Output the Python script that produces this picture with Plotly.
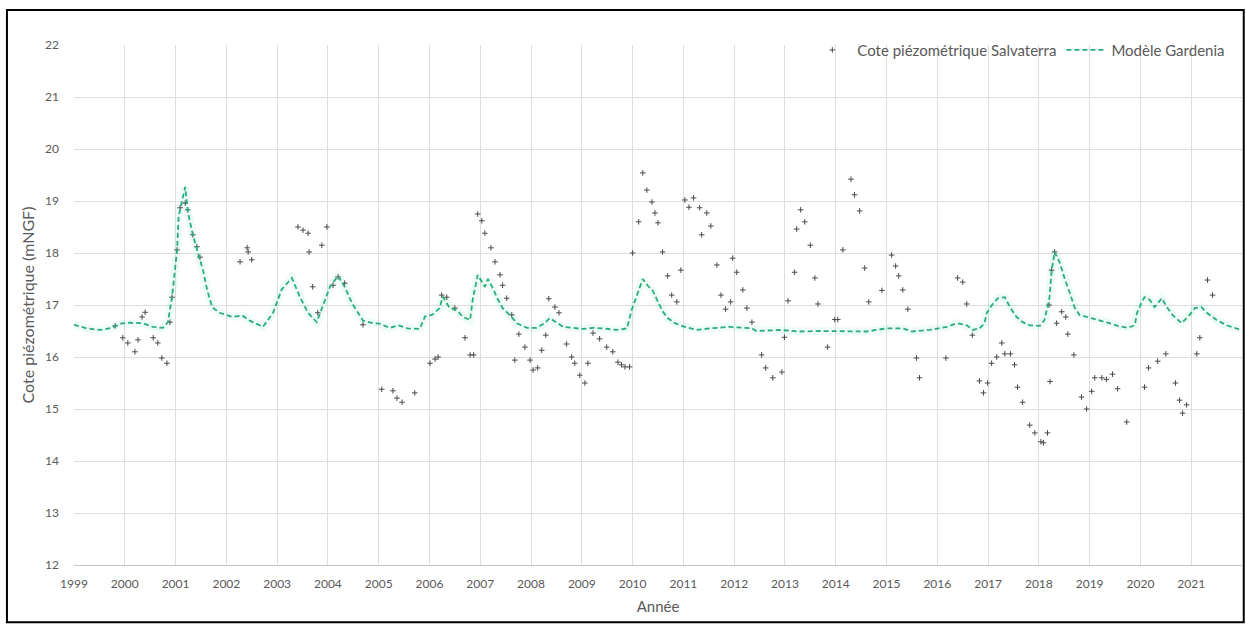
import plotly.graph_objects as go

# Simulated groundwater level (Gardenia model), decimal year / level in mNGF
model_year = [
    1999.00, 1999.25, 1999.51, 1999.75, 1999.90, 2000.10, 2000.35, 2000.55, 2000.75, 2000.85,
    2000.93, 2001.03, 2001.06, 2001.19, 2001.24, 2001.34, 2001.44, 2001.54, 2001.62, 2001.72,
    2001.87, 2002.13, 2002.31, 2002.46, 2002.72, 2002.92, 2003.09, 2003.29, 2003.45, 2003.61,
    2003.78, 2003.90, 2004.04, 2004.20, 2004.33, 2004.47, 2004.69, 2004.89, 2005.02, 2005.22,
    2005.38, 2005.57, 2005.81, 2005.91, 2006.05, 2006.20, 2006.26, 2006.40, 2006.54, 2006.66,
    2006.80, 2006.85, 2006.95, 2007.09, 2007.15, 2007.25, 2007.35, 2007.44, 2007.58, 2007.72,
    2007.92, 2008.11, 2008.27, 2008.37, 2008.51, 2008.63, 2008.82, 2009.02, 2009.22, 2009.41,
    2009.69, 2009.89, 2009.98, 2010.08, 2010.20, 2010.30, 2010.40, 2010.50, 2010.59, 2010.69,
    2010.83, 2011.03, 2011.26, 2011.52, 2011.91, 2012.35, 2012.44, 2012.90, 2013.29, 2013.70,
    2014.08, 2014.61, 2015.00, 2015.32, 2015.50, 2015.85, 2016.19, 2016.38, 2016.58, 2016.70,
    2016.83, 2016.93, 2016.97, 2017.07, 2017.19, 2017.33, 2017.43, 2017.56, 2017.68, 2017.82,
    2018.02, 2018.11, 2018.17, 2018.21, 2018.25, 2018.31, 2018.41, 2018.51, 2018.61, 2018.70,
    2018.80, 2018.96, 2019.20, 2019.39, 2019.55, 2019.75, 2019.89, 2019.93, 2020.02, 2020.08,
    2020.18, 2020.28, 2020.42, 2020.52, 2020.63, 2020.81, 2020.97, 2021.07, 2021.20, 2021.32,
    2021.50, 2021.70, 2021.95,
]
model_level = [
    16.62, 16.55, 16.52, 16.56, 16.64, 16.66, 16.65, 16.58, 16.56, 16.67,
    17.15, 18.06, 18.70, 19.27, 18.80, 18.35, 18.00, 17.67, 17.30, 16.96,
    16.85, 16.77, 16.80, 16.70, 16.58, 16.85, 17.30, 17.52, 17.15, 16.85,
    16.67, 17.00, 17.35, 17.56, 17.35, 17.04, 16.70, 16.65, 16.64, 16.56,
    16.61, 16.55, 16.54, 16.78, 16.81, 16.94, 17.16, 16.94, 16.90, 16.77,
    16.71, 17.10, 17.58, 17.35, 17.50, 17.32, 17.10, 16.94, 16.81, 16.65,
    16.56, 16.56, 16.65, 16.75, 16.65, 16.58, 16.56, 16.54, 16.56, 16.55,
    16.52, 16.55, 16.90, 17.16, 17.50, 17.37, 17.27, 17.06, 16.88, 16.75,
    16.65, 16.58, 16.52, 16.55, 16.58, 16.55, 16.50, 16.52, 16.49, 16.50,
    16.49, 16.49, 16.55, 16.55, 16.49, 16.52, 16.58, 16.65, 16.61, 16.52,
    16.55, 16.65, 16.84, 16.99, 17.13, 17.15, 16.96, 16.77, 16.67, 16.61,
    16.60, 16.71, 16.96, 17.15, 17.65, 18.02, 17.82, 17.50, 17.23, 16.96,
    16.81, 16.77, 16.70, 16.65, 16.60, 16.56, 16.61, 16.84, 17.04, 17.15,
    17.10, 16.96, 17.13, 16.96, 16.81, 16.65, 16.81, 16.94, 16.96, 16.84,
    16.71, 16.61, 16.53,
]

# Measured groundwater level at Salvaterra, decimal year / level in mNGF
obs_year = [
    1999.81, 1999.96, 2000.06, 2000.20, 2000.26, 2000.34, 2000.40, 2000.56, 2000.65, 2000.73,
    2000.83, 2000.89, 2000.93, 2001.03, 2001.09, 2001.19, 2001.24, 2001.34, 2001.42, 2001.48,
    2002.27, 2002.41, 2002.43, 2002.50, 2003.41, 2003.51, 2003.61, 2003.63, 2003.70, 2003.80,
    2003.88, 2003.98, 2004.10, 2004.20, 2004.33, 2004.69, 2005.06, 2005.28, 2005.36, 2005.46,
    2005.71, 2006.01, 2006.11, 2006.17, 2006.24, 2006.34, 2006.50, 2006.70, 2006.80, 2006.87,
    2006.95, 2007.03, 2007.09, 2007.21, 2007.29, 2007.39, 2007.44, 2007.52, 2007.62, 2007.68,
    2007.76, 2007.88, 2007.98, 2008.04, 2008.13, 2008.21, 2008.29, 2008.35, 2008.47, 2008.55,
    2008.70, 2008.80, 2008.86, 2008.96, 2009.06, 2009.12, 2009.22, 2009.35, 2009.49, 2009.61,
    2009.71, 2009.78, 2009.85, 2009.94, 2010.00, 2010.12, 2010.20, 2010.28, 2010.38, 2010.44,
    2010.50, 2010.59, 2010.69, 2010.77, 2010.87, 2010.95, 2011.03, 2011.11, 2011.20, 2011.32,
    2011.36, 2011.46, 2011.54, 2011.66, 2011.74, 2011.83, 2011.93, 2011.97, 2012.05, 2012.17,
    2012.25, 2012.35, 2012.54, 2012.62, 2012.76, 2012.94, 2012.99, 2013.06, 2013.19, 2013.23,
    2013.31, 2013.39, 2013.50, 2013.59, 2013.65, 2013.84, 2013.98, 2014.04, 2014.14, 2014.30,
    2014.37, 2014.47, 2014.57, 2014.65, 2014.91, 2015.10, 2015.18, 2015.24, 2015.32, 2015.42,
    2015.59, 2015.65, 2016.17, 2016.40, 2016.50, 2016.58, 2016.69, 2016.83, 2016.91, 2016.99,
    2017.07, 2017.17, 2017.27, 2017.33, 2017.44, 2017.52, 2017.58, 2017.68, 2017.82, 2017.92,
    2018.04, 2018.09, 2018.17, 2018.20, 2018.22, 2018.25, 2018.31, 2018.35, 2018.45, 2018.53,
    2018.57, 2018.69, 2018.84, 2018.94, 2019.04, 2019.10, 2019.24, 2019.33, 2019.45, 2019.55,
    2019.73, 2020.08, 2020.16, 2020.34, 2020.50, 2020.69, 2020.77, 2020.83, 2020.91, 2021.11,
    2021.17, 2021.32, 2021.42,
]
obs_level = [
    16.60, 16.37, 16.27, 16.10, 16.33, 16.77, 16.86, 16.37, 16.27, 15.98,
    15.88, 16.67, 17.15, 18.06, 18.87, 18.96, 18.83, 18.35, 18.12, 17.92,
    17.83, 18.10, 18.02, 17.87, 18.50, 18.44, 18.38, 18.02, 17.35, 16.85,
    18.15, 18.50, 17.38, 17.54, 17.42, 16.62, 15.38, 15.35, 15.21, 15.13,
    15.31, 15.88, 15.96, 16.00, 17.19, 17.15, 16.94, 16.37, 16.04, 16.04,
    18.75, 18.62, 18.38, 18.10, 17.83, 17.58, 17.38, 17.13, 16.81, 15.94,
    16.44, 16.19, 15.94, 15.75, 15.79, 16.13, 16.42, 17.12, 16.96, 16.85,
    16.25, 16.00, 15.88, 15.65, 15.50, 15.88, 16.46, 16.35, 16.19, 16.10,
    15.90, 15.85, 15.81, 15.81, 18.00, 18.60, 19.54, 19.21, 18.98, 18.77,
    18.58, 18.02, 17.56, 17.19, 17.06, 17.67, 19.02, 18.88, 19.06, 18.87,
    18.35, 18.77, 18.52, 17.77, 17.19, 16.92, 17.06, 17.90, 17.63, 17.29,
    16.94, 16.67, 16.04, 15.79, 15.60, 15.71, 16.38, 17.08, 17.63, 18.46,
    18.83, 18.60, 18.15, 17.52, 17.02, 16.19, 16.72, 16.72, 18.06, 19.42,
    19.12, 18.81, 17.71, 17.06, 17.28, 17.96, 17.75, 17.56, 17.29, 16.92,
    15.98, 15.60, 15.98, 17.52, 17.44, 17.02, 16.42, 15.54, 15.31, 15.50,
    15.88, 16.00, 16.27, 16.06, 16.06, 15.85, 15.42, 15.13, 14.69, 14.54,
    14.37, 14.35, 14.54, 17.00, 15.53, 17.67, 18.02, 16.65, 16.87, 16.77,
    16.44, 16.04, 15.23, 15.00, 15.34, 15.60, 15.60, 15.57, 15.67, 15.39,
    14.75, 15.42, 15.79, 15.92, 16.06, 15.50, 15.17, 14.92, 15.08, 16.06,
    16.37, 17.48, 17.19,
]

year_ticks = list(range(1999, 2022))
level_ticks = list(range(12, 23))

FONT = "Lato, 'Liberation Sans', sans-serif"
TEXT = "#595959"
GREEN = "#2aae78"

fig = go.Figure()

# soft halo under the model curve
fig.add_trace(go.Scatter(
    x=model_year, y=model_level, mode="lines",
    line=dict(color="rgba(120,225,190,0.13)", width=8),
    hoverinfo="skip", showlegend=False,
))

fig.add_trace(go.Scatter(
    x=obs_year, y=obs_level, mode="markers",
    name="Cote piézométrique Salvaterra",
    marker=dict(symbol="cross-thin", size=4, color="#4a4a4a",
                line=dict(width=1, color="#4a4a4a")),
))

fig.add_trace(go.Scatter(
    x=model_year, y=model_level, mode="lines",
    name="Modèle Gardenia",
    line=dict(color=GREEN, width=1.8, dash="5px,3px"),
))

fig.update_layout(
    width=1246, height=632,
    margin=dict(l=74, r=4, t=45, b=67),
    paper_bgcolor="white", plot_bgcolor="white",
    font=dict(family=FONT, size=12, color=TEXT),
    showlegend=True,
    legend=dict(
        orientation="h", x=0.99, y=0.99, xanchor="right", yanchor="middle",
        font=dict(size=15, color=TEXT), bgcolor="rgba(0,0,0,0)",
        itemwidth=40, tracegroupgap=0,
    ),
    xaxis=dict(
        range=[1999, 2022],
        tickmode="array",
        tickvals=year_ticks + [2022],
        ticktext=[str(y) for y in year_ticks] + [""],
        showgrid=True, gridcolor="#dedede", gridwidth=1,
        showline=True, linecolor="#c4c4c4", linewidth=1,
        zeroline=False, ticks="", ticklabelstandoff=8,
        tickfont=dict(size=12, color=TEXT),
        title=dict(text="Année", font=dict(size=15, color=TEXT), standoff=11),
    ),
    yaxis=dict(
        range=[12, 22],
        tickmode="array",
        tickvals=level_ticks,
        ticktext=[str(v) for v in level_ticks],
        showgrid=True, gridcolor="#dedede", gridwidth=1,
        showline=False, zeroline=False, ticks="", ticklabelstandoff=14,
        tickfont=dict(size=12, color=TEXT),
        title=dict(text="Cote piézométrique (mNGF)", font=dict(size=16, color=TEXT), standoff=6),
    ),
    shapes=[dict(
        type="rect", xref="paper", yref="paper",
        x0=-0.0574, x1=1.0015, y0=-0.110, y1=1.0673,
        line=dict(color="black", width=2), fillcolor="rgba(0,0,0,0)",
        layer="above",
    )],
)

fig.write_html("out.html")
